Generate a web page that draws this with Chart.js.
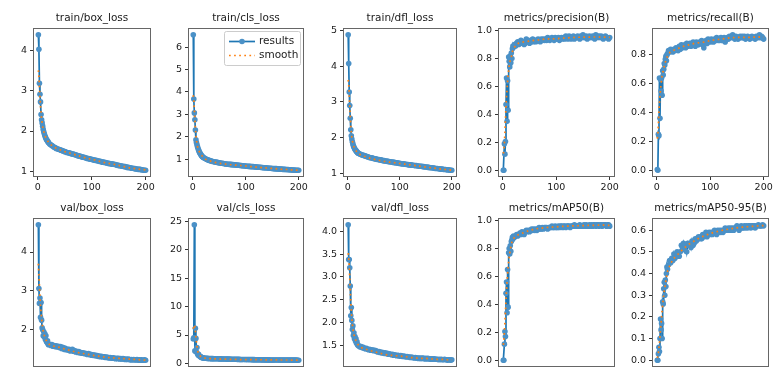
<!DOCTYPE html>
<html>
<head>
<meta charset="utf-8">
<script src="https://cdn.jsdelivr.net/npm/chart.js@4.4.0/dist/chart.umd.min.js"></script>
<style>
  html, body { margin: 0; padding: 0; background: #fff; }
  body { width: 784px; height: 367px; overflow: hidden; position: relative; }
  canvas { position: absolute; }
</style>
</head>
<body>
<script>
// epochs (dense at the start, every second epoch afterwards)
const epochs = [
  1, 2, 3, 4, 5, 6, 7, 8, 9, 10, 11, 12, 13, 14, 15, 16, 17, 18, 19, 20,
  22, 24, 26, 28, 30, 32, 34, 36, 38, 40,
  42, 44, 46, 48, 50, 52, 54, 56, 58, 60,
  62, 64, 66, 68, 70, 72, 74, 76, 78, 80,
  82, 84, 86, 88, 90, 92, 94, 96, 98, 100,
  102, 104, 106, 108, 110, 112, 114, 116, 118, 120,
  122, 124, 126, 128, 130, 132, 134, 136, 138, 140,
  142, 144, 146, 148, 150, 152, 154, 156, 158, 160,
  162, 164, 166, 168, 170, 172, 174, 176, 178, 180,
  182, 184, 186, 188, 190, 192, 194, 196, 198, 200,
];
const smoothEpochs = [1, 2, 3, 4, 5, 6, 7, 8, 9, 10, 12, 14, 16, 18, 20, 25, 30,
  40, 50, 60, 70, 80, 90, 100, 110, 120, 130, 140, 150, 160, 170, 180, 190, 200];

const xTickLabels = ["0", "100", "200"];

const trainBoxLoss = [
  4.38, 4.02, 3.18, 2.91, 2.72, 2.41, 2.28, 2.20, 2.12, 2.04, 1.98, 1.93, 1.89, 1.85, 1.82, 1.79, 1.77, 1.75, 1.73, 1.71,
  1.68, 1.66, 1.64, 1.62, 1.60, 1.59, 1.57, 1.56, 1.55, 1.54,
  1.53, 1.52, 1.51, 1.50, 1.49, 1.48, 1.47, 1.46, 1.46, 1.45,
  1.44, 1.43, 1.43, 1.42, 1.41, 1.40, 1.39, 1.38, 1.38, 1.37,
  1.36, 1.35, 1.35, 1.34, 1.33, 1.32, 1.32, 1.31, 1.30, 1.30,
  1.29, 1.28, 1.28, 1.27, 1.27, 1.26, 1.25, 1.25, 1.24, 1.23,
  1.23, 1.22, 1.22, 1.21, 1.20, 1.20, 1.19, 1.19, 1.18, 1.18,
  1.17, 1.17, 1.16, 1.15, 1.15, 1.14, 1.14, 1.13, 1.13, 1.12,
  1.12, 1.11, 1.10, 1.10, 1.09, 1.09, 1.08, 1.08, 1.07, 1.07,
  1.06, 1.06, 1.05, 1.05, 1.05, 1.04, 1.04, 1.03, 1.03, 1.03,
];
const trainBoxSmooth = [3.50, 3.35, 3.10, 2.85, 2.62, 2.45, 2.30, 2.20, 2.11, 2.04, 1.94, 1.86, 1.80, 1.76, 1.72, 1.65, 1.60,
  1.54, 1.49, 1.45, 1.41, 1.37, 1.33, 1.30, 1.27, 1.23, 1.20, 1.18, 1.15, 1.12, 1.09, 1.07, 1.05, 1.04];
const trainBoxTicks = ["1", "2", "3", "4"];

const trainClsLoss = [
  6.55, 3.68, 3.06, 2.75, 2.30, 1.86, 1.74, 1.64, 1.55, 1.47, 1.40, 1.34, 1.29, 1.25, 1.21, 1.17, 1.14, 1.11, 1.09, 1.07,
  1.04, 1.01, 0.99, 0.97, 0.95, 0.93, 0.92, 0.90, 0.89, 0.88,
  0.87, 0.86, 0.85, 0.84, 0.83, 0.82, 0.81, 0.81, 0.80, 0.79,
  0.78, 0.78, 0.77, 0.77, 0.76, 0.76, 0.75, 0.75, 0.74, 0.74,
  0.73, 0.73, 0.72, 0.72, 0.71, 0.71, 0.70, 0.70, 0.69, 0.69,
  0.68, 0.68, 0.67, 0.67, 0.66, 0.66, 0.66, 0.65, 0.65, 0.64,
  0.64, 0.63, 0.63, 0.63, 0.62, 0.62, 0.61, 0.61, 0.61, 0.60,
  0.60, 0.59, 0.59, 0.59, 0.58, 0.58, 0.57, 0.57, 0.57, 0.56,
  0.56, 0.55, 0.55, 0.55, 0.54, 0.54, 0.54, 0.53, 0.53, 0.53,
  0.52, 0.52, 0.52, 0.51, 0.51, 0.51, 0.50, 0.50, 0.50, 0.50,
];
const trainClsSmooth = [3.85, 3.60, 3.22, 2.80, 2.40, 2.08, 1.85, 1.68, 1.56, 1.47, 1.35, 1.26, 1.19, 1.13, 1.08, 0.98, 0.93,
  0.86, 0.81, 0.78, 0.75, 0.73, 0.71, 0.69, 0.66, 0.64, 0.62, 0.60, 0.58, 0.56, 0.54, 0.53, 0.51, 0.50];
const trainClsTicks = ["1", "2", "3", "4", "5", "6"];

const trainDflLoss = [
  4.89, 4.08, 3.28, 2.90, 2.54, 2.22, 2.05, 1.96, 1.88, 1.82, 1.77, 1.73, 1.70, 1.67, 1.65, 1.63, 1.61, 1.59, 1.58, 1.56,
  1.55, 1.53, 1.52, 1.51, 1.50, 1.49, 1.48, 1.47, 1.46, 1.45,
  1.44, 1.43, 1.43, 1.42, 1.41, 1.40, 1.40, 1.39, 1.38, 1.38,
  1.37, 1.37, 1.36, 1.35, 1.35, 1.34, 1.34, 1.33, 1.33, 1.32,
  1.32, 1.31, 1.31, 1.30, 1.30, 1.29, 1.29, 1.28, 1.28, 1.27,
  1.27, 1.26, 1.26, 1.26, 1.25, 1.25, 1.24, 1.24, 1.23, 1.23,
  1.23, 1.22, 1.22, 1.21, 1.21, 1.21, 1.20, 1.20, 1.19, 1.19,
  1.19, 1.18, 1.18, 1.17, 1.17, 1.17, 1.16, 1.16, 1.15, 1.15,
  1.15, 1.14, 1.14, 1.13, 1.13, 1.13, 1.12, 1.12, 1.11, 1.11,
  1.11, 1.10, 1.10, 1.10, 1.09, 1.09, 1.09, 1.08, 1.08, 1.08,
];
const trainDflSmooth = [3.62, 3.50, 3.22, 2.90, 2.60, 2.34, 2.15, 2.01, 1.91, 1.84, 1.74, 1.67, 1.63, 1.59, 1.56, 1.51, 1.48,
  1.43, 1.39, 1.36, 1.33, 1.31, 1.29, 1.27, 1.25, 1.23, 1.21, 1.19, 1.17, 1.15, 1.13, 1.11, 1.10, 1.08];
const trainDflTicks = ["1", "2", "3", "4", "5"];

const precision = [
  0.00, 0.00, 0.19, 0.115, 0.205, 0.47, 0.66, 0.35, 0.64, 0.43, 0.81, 0.78, 0.74, 0.82, 0.77, 0.84, 0.80, 0.87, 0.89, 0.88,
  0.90, 0.89, 0.91, 0.92, 0.90, 0.91, 0.93, 0.91, 0.92, 0.90,
  0.91, 0.94, 0.93, 0.92, 0.91, 0.93, 0.92, 0.94, 0.92, 0.93,
  0.92, 0.93, 0.94, 0.93, 0.92, 0.94, 0.93, 0.94, 0.93, 0.94,
  0.93, 0.95, 0.94, 0.93, 0.94, 0.95, 0.94, 0.93, 0.95, 0.94,
  0.94, 0.95, 0.93, 0.94, 0.95, 0.94, 0.95, 0.94, 0.96, 0.95,
  0.94, 0.96, 0.95, 0.94, 0.95, 0.96, 0.94, 0.95, 0.95, 0.96,
  0.95, 0.94, 0.96, 0.95, 0.97, 0.95, 0.95, 0.96, 0.94, 0.95,
  0.96, 0.95, 0.95, 0.96, 0.95, 0.94, 0.97, 0.96, 0.95, 0.96,
  0.95, 0.96, 0.95, 0.94, 0.95, 0.96, 0.95, 0.95, 0.94, 0.95,
];
const precisionSmooth = [0.12, 0.14, 0.19, 0.27, 0.37, 0.46, 0.53, 0.58, 0.64, 0.68, 0.75, 0.79, 0.81, 0.85, 0.87, 0.90, 0.91,
  0.92, 0.925, 0.93, 0.935, 0.94, 0.94, 0.942, 0.945, 0.948, 0.95, 0.952, 0.953, 0.953, 0.954, 0.954, 0.953, 0.952];
const precisionTicks = ["0.0", "0.2", "0.4", "0.6", "0.8", "1.0"];

const recall = [
  0.005, 0.00, 0.25, 0.24, 0.64, 0.36, 0.63, 0.55, 0.64, 0.52, 0.69, 0.66, 0.70, 0.74, 0.73, 0.77, 0.79, 0.76, 0.80, 0.81,
  0.83, 0.82, 0.84, 0.83, 0.82, 0.84, 0.83, 0.85, 0.84, 0.83,
  0.86, 0.84, 0.87, 0.85, 0.86, 0.87, 0.85, 0.88, 0.86, 0.87,
  0.88, 0.86, 0.87, 0.89, 0.88, 0.86, 0.89, 0.88, 0.87, 0.89,
  0.88, 0.90, 0.87, 0.85, 0.89, 0.90, 0.88, 0.91, 0.90, 0.89,
  0.91, 0.90, 0.89, 0.91, 0.90, 0.92, 0.91, 0.90, 0.91, 0.92,
  0.90, 0.91, 0.92, 0.89, 0.91, 0.92, 0.91, 0.93, 0.92, 0.93,
  0.94, 0.92, 0.91, 0.93, 0.92, 0.91, 0.92, 0.93, 0.92, 0.93,
  0.92, 0.93, 0.91, 0.92, 0.93, 0.92, 0.91, 0.92, 0.93, 0.92,
  0.92, 0.91, 0.93, 0.92, 0.93, 0.94, 0.92, 0.93, 0.92, 0.91,
];
const recallSmooth = [0.22, 0.25, 0.32, 0.40, 0.47, 0.52, 0.56, 0.60, 0.63, 0.66, 0.69, 0.72, 0.75, 0.77, 0.79, 0.82, 0.83,
  0.845, 0.86, 0.87, 0.88, 0.885, 0.89, 0.90, 0.905, 0.91, 0.915, 0.92, 0.922, 0.922, 0.922, 0.923, 0.925, 0.923];
const recallTicks = ["0.0", "0.2", "0.4", "0.6", "0.8"];

const valBoxLoss = [
  4.70, 3.06, 2.68, 2.82, 2.32, 2.70, 2.25, 2.05, 2.00, 1.85, 1.95, 1.82, 1.90, 1.75, 1.85, 1.70, 1.68, 1.72, 1.64, 1.62,
  1.63, 1.60, 1.62, 1.58, 1.60, 1.57, 1.59, 1.56, 1.58, 1.55,
  1.57, 1.52, 1.55, 1.50, 1.53, 1.49, 1.51, 1.48, 1.50, 1.46,
  1.48, 1.50, 1.45, 1.47, 1.43, 1.45, 1.42, 1.44, 1.41, 1.42,
  1.40, 1.41, 1.39, 1.40, 1.38, 1.37, 1.39, 1.36, 1.37, 1.35,
  1.36, 1.34, 1.35, 1.33, 1.34, 1.32, 1.33, 1.31, 1.32, 1.31,
  1.30, 1.31, 1.29, 1.30, 1.29, 1.28, 1.29, 1.28, 1.27, 1.28,
  1.27, 1.26, 1.27, 1.26, 1.27, 1.25, 1.26, 1.25, 1.26, 1.25,
  1.24, 1.25, 1.24, 1.25, 1.24, 1.23, 1.24, 1.23, 1.24, 1.23,
  1.23, 1.24, 1.22, 1.23, 1.22, 1.23, 1.22, 1.22, 1.23, 1.22,
];
const valBoxSmooth = [3.70, 3.45, 3.12, 2.85, 2.62, 2.45, 2.30, 2.17, 2.06, 1.98, 1.86, 1.78, 1.72, 1.67, 1.64, 1.60, 1.58,
  1.55, 1.51, 1.47, 1.43, 1.40, 1.38, 1.35, 1.33, 1.31, 1.29, 1.28, 1.27, 1.26, 1.25, 1.24, 1.23, 1.22];
const valBoxTicks = ["2", "3", "4"];

const valClsLoss = [
  4.3, 4.5, 24.4, 2.2, 6.2, 4.4, 2.0, 2.8, 1.7, 1.5, 1.6, 1.35, 1.3, 1.2, 1.15, 1.1, 1.05, 1.0, 0.98, 0.95,
  0.93, 0.91, 0.90, 0.88, 0.87, 0.86, 0.85, 0.84, 0.84, 0.83,
  0.82, 0.82, 0.81, 0.80, 0.80, 0.79, 0.79, 0.78, 0.78, 0.77,
  0.77, 0.76, 0.76, 0.75, 0.75, 0.74, 0.74, 0.73, 0.73, 0.72,
  0.72, 0.71, 0.71, 0.71, 0.70, 0.70, 0.69, 0.69, 0.69, 0.68,
  0.68, 0.68, 0.67, 0.67, 0.67, 0.66, 0.66, 0.66, 0.65, 0.65,
  0.65, 0.64, 0.64, 0.64, 0.63, 0.63, 0.63, 0.63, 0.62, 0.62,
  0.62, 0.62, 0.61, 0.61, 0.61, 0.61, 0.60, 0.60, 0.60, 0.60,
  0.60, 0.59, 0.59, 0.59, 0.59, 0.59, 0.58, 0.58, 0.58, 0.58,
  0.58, 0.58, 0.57, 0.57, 0.57, 0.57, 0.57, 0.57, 0.56, 0.56,
];
const valClsSmooth = [6.1, 6.6, 6.8, 6.5, 5.7, 4.7, 3.8, 3.0, 2.4, 2.0, 1.55, 1.3, 1.15, 1.05, 0.98, 0.9, 0.86,
  0.8, 0.77, 0.75, 0.72, 0.7, 0.68, 0.67, 0.66, 0.65, 0.64, 0.63, 0.62, 0.61, 0.6, 0.6, 0.59, 0.59];
const valClsTicks = ["0", "5", "10", "15", "20", "25"];

const valDflLoss = [
  4.14, 3.38, 3.38, 3.20, 2.80, 2.15, 2.33, 2.05, 1.85, 1.93, 1.72, 1.78, 1.65, 1.70, 1.60, 1.65, 1.55, 1.58, 1.52, 1.50,
  1.49, 1.47, 1.48, 1.45, 1.46, 1.44, 1.43, 1.44, 1.42, 1.41,
  1.42, 1.40, 1.41, 1.39, 1.40, 1.38, 1.39, 1.37, 1.36, 1.37,
  1.35, 1.36, 1.34, 1.35, 1.33, 1.34, 1.32, 1.33, 1.31, 1.32,
  1.31, 1.30, 1.31, 1.29, 1.30, 1.29, 1.28, 1.29, 1.28, 1.27,
  1.28, 1.27, 1.26, 1.27, 1.26, 1.25, 1.26, 1.25, 1.25, 1.24,
  1.25, 1.24, 1.24, 1.23, 1.24, 1.23, 1.23, 1.22, 1.23, 1.22,
  1.22, 1.23, 1.22, 1.21, 1.22, 1.21, 1.22, 1.21, 1.21, 1.20,
  1.21, 1.20, 1.21, 1.20, 1.20, 1.20, 1.19, 1.20, 1.19, 1.20,
  1.19, 1.19, 1.20, 1.19, 1.19, 1.18, 1.19, 1.19, 1.18, 1.19,
];
const valDflSmooth = [3.52, 3.45, 3.25, 2.98, 2.70, 2.46, 2.26, 2.10, 1.97, 1.87, 1.74, 1.66, 1.61, 1.57, 1.52, 1.46, 1.44,
  1.40, 1.37, 1.34, 1.31, 1.29, 1.28, 1.27, 1.26, 1.24, 1.23, 1.22, 1.22, 1.21, 1.20, 1.20, 1.19, 1.19];
const valDflTicks = ["1.5", "2.0", "2.5", "3.0", "3.5", "4.0"];

const mAP50 = [
  0.00, 0.00, 0.115, 0.205, 0.17, 0.48, 0.56, 0.34, 0.65, 0.38, 0.77, 0.80, 0.76, 0.82, 0.78, 0.85, 0.86, 0.88, 0.87, 0.89,
  0.88, 0.89, 0.90, 0.89, 0.90, 0.91, 0.90, 0.92, 0.91, 0.90,
  0.92, 0.93, 0.92, 0.93, 0.92, 0.93, 0.94, 0.93, 0.94, 0.93,
  0.94, 0.93, 0.94, 0.95, 0.94, 0.94, 0.95, 0.94, 0.95, 0.95,
  0.95, 0.94, 0.95, 0.95, 0.95, 0.96, 0.95, 0.95, 0.96, 0.95,
  0.95, 0.96, 0.95, 0.96, 0.96, 0.95, 0.96, 0.96, 0.95, 0.96,
  0.96, 0.96, 0.95, 0.96, 0.96, 0.96, 0.97, 0.96, 0.96, 0.96,
  0.96, 0.97, 0.96, 0.96, 0.96, 0.97, 0.96, 0.97, 0.96, 0.96,
  0.97, 0.96, 0.97, 0.96, 0.97, 0.97, 0.96, 0.97, 0.97, 0.96,
  0.97, 0.97, 0.96, 0.97, 0.97, 0.97, 0.96, 0.97, 0.97, 0.96,
];
const mAP50Smooth = [0.11, 0.14, 0.20, 0.27, 0.35, 0.43, 0.50, 0.56, 0.62, 0.67, 0.74, 0.79, 0.83, 0.86, 0.87, 0.89, 0.90,
  0.915, 0.93, 0.94, 0.945, 0.95, 0.953, 0.955, 0.958, 0.96, 0.962, 0.963, 0.964, 0.965, 0.966, 0.967, 0.967, 0.966];
const mAP50Ticks = ["0.0", "0.2", "0.4", "0.6", "0.8", "1.0"];

const mAP5095 = [
  0.00, 0.00, 0.03, 0.06, 0.04, 0.10, 0.19, 0.14, 0.17, 0.10, 0.27, 0.26, 0.33, 0.36, 0.30, 0.37, 0.34, 0.40, 0.43, 0.42,
  0.44, 0.46, 0.45, 0.47, 0.46, 0.49, 0.47, 0.48, 0.50, 0.49,
  0.48, 0.50, 0.53, 0.52, 0.54, 0.51, 0.53, 0.50, 0.54, 0.53,
  0.54, 0.52, 0.55, 0.53, 0.54, 0.56, 0.55, 0.56, 0.57, 0.56,
  0.57, 0.56, 0.58, 0.57, 0.58, 0.59, 0.57, 0.58, 0.59, 0.58,
  0.59, 0.58, 0.59, 0.60, 0.59, 0.58, 0.60, 0.59, 0.60, 0.59,
  0.60, 0.59, 0.60, 0.61, 0.60, 0.60, 0.61, 0.60, 0.61, 0.60,
  0.61, 0.60, 0.61, 0.61, 0.62, 0.61, 0.60, 0.61, 0.62, 0.61,
  0.61, 0.62, 0.61, 0.62, 0.61, 0.62, 0.62, 0.61, 0.62, 0.62,
  0.62, 0.61, 0.62, 0.62, 0.625, 0.62, 0.62, 0.62, 0.625, 0.62,
];
const mAP5095Smooth = [0.01, 0.02, 0.035, 0.055, 0.08, 0.11, 0.14, 0.17, 0.20, 0.23, 0.28, 0.32, 0.35, 0.38, 0.41, 0.44, 0.465,
  0.49, 0.515, 0.535, 0.55, 0.565, 0.575, 0.585, 0.592, 0.598, 0.603, 0.607, 0.611, 0.614, 0.616, 0.618, 0.62, 0.621];
const mAP5095Ticks = ["0.0", "0.1", "0.2", "0.3", "0.4", "0.5", "0.6"];

const panels = [
  { title: "train/box_loss", values: trainBoxLoss, smooth: trainBoxSmooth, ticks: trainBoxTicks },
  { title: "train/cls_loss", values: trainClsLoss, smooth: trainClsSmooth, ticks: trainClsTicks, legend: true },
  { title: "train/dfl_loss", values: trainDflLoss, smooth: trainDflSmooth, ticks: trainDflTicks },
  { title: "metrics/precision(B)", values: precision, smooth: precisionSmooth, ticks: precisionTicks },
  { title: "metrics/recall(B)", values: recall, smooth: recallSmooth, ticks: recallTicks },
  { title: "val/box_loss", values: valBoxLoss, smooth: valBoxSmooth, ticks: valBoxTicks },
  { title: "val/cls_loss", values: valClsLoss, smooth: valClsSmooth, ticks: valClsTicks },
  { title: "val/dfl_loss", values: valDflLoss, smooth: valDflSmooth, ticks: valDflTicks },
  { title: "metrics/mAP50(B)", values: mAP50, smooth: mAP50Smooth, ticks: mAP50Ticks },
  { title: "metrics/mAP50-95(B)", values: mAP5095, smooth: mAP5095Smooth, ticks: mAP5095Ticks },
];

// axes boxes of the 2x5 grid
const colLeft = [33, 188, 343, 498, 652];
const colRight = [151, 304, 457, 615, 769];
const rowTop = [28, 218];
const boxHeight = 149;
const padLeft = 40, padRight = 14, padTop = 28, padBottom = 22;

Chart.defaults.font.family = "'DejaVu Sans', sans-serif";
Chart.defaults.color = "#222";

const frame = {
    id: "frame",
    afterDatasetsDraw(chart) {
        const a = chart.chartArea;
        const ctx = chart.ctx;
        ctx.save();
        ctx.strokeStyle = "#666";
        ctx.lineWidth = 1;
        ctx.strokeRect(a.left + 0.5, a.top + 0.5, a.right - a.left - 1, a.bottom - a.top - 1);
        ctx.restore();
    },
};

// matplotlib style legend box in the upper right corner
const cornerLegend = {
    id: "cornerLegend",
    afterDraw(chart) {
        const a = chart.chartArea;
        const ctx = chart.ctx;
        const [res, sm] = chart.data.datasets;
        const w = 76, h = 34;
        const x = a.right - w - 4, y = a.top + 3;
        ctx.save();
        ctx.fillStyle = "rgba(255,255,255,0.85)";
        ctx.strokeStyle = "#cccccc";
        ctx.lineWidth = 1;
        ctx.beginPath();
        ctx.roundRect(x + 0.5, y + 0.5, w, h, 2);
        ctx.fill();
        ctx.stroke();

        const r1 = y + 10.5, r2 = y + 24.5;
        ctx.strokeStyle = res.borderColor;
        ctx.lineWidth = res.borderWidth;
        ctx.beginPath();
        ctx.moveTo(x + 5, r1);
        ctx.lineTo(x + 31, r1);
        ctx.stroke();
        ctx.fillStyle = res.pointBackgroundColor;
        ctx.beginPath();
        ctx.arc(x + 18, r1, res.pointRadius, 0, Math.PI * 2);
        ctx.fill();

        ctx.strokeStyle = sm.borderColor;
        ctx.lineWidth = sm.borderWidth;
        ctx.setLineDash(sm.borderDash);
        ctx.beginPath();
        ctx.moveTo(x + 5, r2);
        ctx.lineTo(x + 31, r2);
        ctx.stroke();
        ctx.setLineDash([]);

        ctx.font = "10.5px 'DejaVu Sans'";
        ctx.fillStyle = "#222";
        ctx.textBaseline = "middle";
        ctx.fillText(res.label, x + 35, r1);
        ctx.fillText(sm.label, x + 35, r2);
        ctx.restore();
    },
};

function fixedTicks(labels) {
    return (scale) => {
        scale.ticks = labels.map((l) => ({ value: parseFloat(l) }));
    };
}

function makePanel(p, i) {
    const col = i % 5;
    const row = Math.floor(i / 5);
    const boxWidth = colRight[col] - colLeft[col];

    const canvas = document.createElement("canvas");
    canvas.width = boxWidth + padLeft + padRight;
    canvas.height = boxHeight + padTop + padBottom;
    canvas.style.left = (colLeft[col] - padLeft) + "px";
    canvas.style.top = (rowTop[row] - padTop) + "px";
    document.body.appendChild(canvas);

    // matplotlib autoscale: 5% margins around the data
    const all = p.values.concat(p.smooth);
    const lo = Math.min(...all), hi = Math.max(...all);
    const xLo = epochs[0], xHi = epochs[epochs.length - 1];

    new Chart(canvas, {
        type: "line",
        data: {
            datasets: [
                {
                    label: "results",
                    data: epochs.map((e, k) => ({ x: e, y: p.values[k] })),
                    borderColor: "#1f77b4",
                    borderWidth: 1.7,
                    pointRadius: 2.8,
                    pointBorderWidth: 0,
                    pointBackgroundColor: "#4b91c7",
                    pointHoverRadius: 0,
                    tension: 0,
                    order: 2,
                },
                {
                    label: "smooth",
                    data: smoothEpochs.map((e, k) => ({ x: e, y: p.smooth[k] })),
                    borderColor: "#ff7f0e",
                    borderWidth: 1.7,
                    borderDash: [1.7, 3.4],
                    pointRadius: 0,
                    tension: 0,
                    order: 1,
                },
            ],
        },
        options: {
            responsive: false,
            animation: false,
            devicePixelRatio: 1,
            events: [],
            layout: { padding: { left: 0, right: padRight, top: 0, bottom: 0 } },
            plugins: {
                legend: { display: false },
                tooltip: { enabled: false },
                title: {
                    display: true,
                    text: p.title,
                    fullSize: false,
                    color: "#1a1a1a",
                    font: { size: 10.5, weight: "normal" },
                    padding: { top: 12.4, bottom: 3 },
                },
            },
            scales: {
                x: {
                    type: "linear",
                    min: xLo - (xHi - xLo) * 0.05,
                    max: xHi + (xHi - xLo) * 0.05,
                    afterBuildTicks: fixedTicks(xTickLabels),
                    afterFit: (s) => { s.height = padBottom; s.paddingLeft = 0; s.paddingRight = 0; },
                    grid: { drawOnChartArea: false, drawTicks: true, tickLength: 3, tickColor: "#333" },
                    border: { display: false },
                    ticks: { font: { size: 9.5 }, color: "#1a1a1a", padding: 2, maxRotation: 0,
                        callback: (v, k) => xTickLabels[k] },
                },
                y: {
                    type: "linear",
                    min: lo - (hi - lo) * 0.05,
                    max: hi + (hi - lo) * 0.05,
                    afterBuildTicks: fixedTicks(p.ticks),
                    afterFit: (s) => { s.width = padLeft; s.paddingTop = 0; s.paddingBottom = 0; },
                    grid: { drawOnChartArea: false, drawTicks: true, tickLength: 3, tickColor: "#333" },
                    border: { display: false },
                    ticks: { font: { size: 9.5 }, color: "#1a1a1a", padding: 3,
                        callback: (v, k) => p.ticks[k] },
                },
            },
        },
        plugins: p.legend ? [frame, cornerLegend] : [frame],
    });
}

panels.forEach(makePanel);
</script>
</body>
</html>
